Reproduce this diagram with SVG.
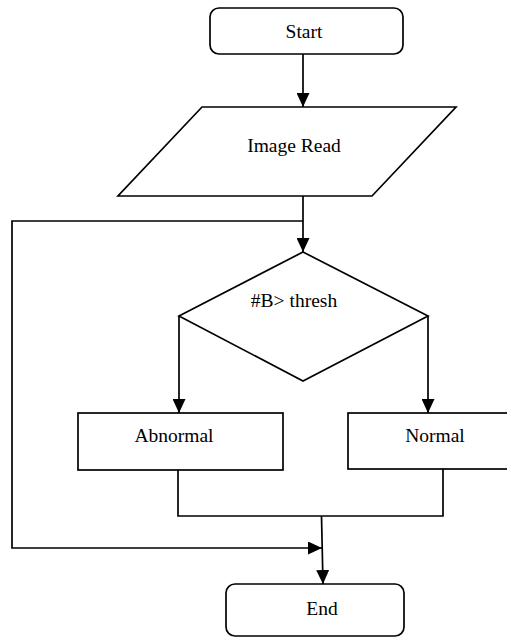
<svg xmlns="http://www.w3.org/2000/svg" width="507" height="637" viewBox="0 0 507 637">
<style>
.s{fill:#fff;stroke:#000;stroke-width:1.7}
.c{fill:none;stroke:#000;stroke-width:1.7}
.t{font-family:"Liberation Serif","Times New Roman",serif;font-size:19.5px;fill:#000;text-anchor:middle}
</style>
<defs>
<marker id="ah" viewBox="0 0 14 13" refX="14" refY="6.5" markerWidth="14" markerHeight="13" markerUnits="userSpaceOnUse" orient="auto">
<path d="M0,0 L14,6.5 L0,13 Z" fill="#000"/>
</marker>
</defs>
<rect width="507" height="637" fill="#fff"/>
<g id="connectors">
<line class="c" x1="303" y1="54" x2="303" y2="107" marker-end="url(#ah)"/>
<polyline class="c" points="303,196 303,252" marker-end="url(#ah)"/>
<polyline class="c" points="303,221 12,221 12,548 322,548" marker-end="url(#ah)"/>
<line class="c" x1="179" y1="316" x2="179" y2="413" marker-end="url(#ah)"/>
<line class="c" x1="428" y1="316" x2="428" y2="413" marker-end="url(#ah)"/>
<polyline class="c" points="178,470 178,516 443,516 443,469"/>
<line class="c" x1="321.5" y1="516" x2="323" y2="584" marker-end="url(#ah)"/>
</g>
<g id="start">
<rect class="s" x="210" y="8" width="193" height="46" rx="9"/>
<text class="t" x="304" y="38">Start</text>
</g>
<g id="imageRead">
<polygon class="s" points="202,107 456,107 372,196 118,196"/>
<text class="t" x="294" y="152">Image Read</text>
</g>
<g id="decision">
<polygon class="s" points="303,252 428,316 303,381 179,316"/>
<text class="t" x="294" y="307">#B&gt; thresh</text>
</g>
<g id="abnormal">
<rect class="s" x="78" y="413" width="205" height="57"/>
<text class="t" x="174" y="442">Abnormal</text>
</g>
<g id="normal">
<rect class="s" x="348" y="413" width="172" height="56"/>
<text class="t" x="435" y="442">Normal</text>
</g>
<g id="end">
<rect class="s" x="226" y="584" width="178" height="52" rx="9"/>
<text class="t" x="322" y="615">End</text>
</g>
</svg>
